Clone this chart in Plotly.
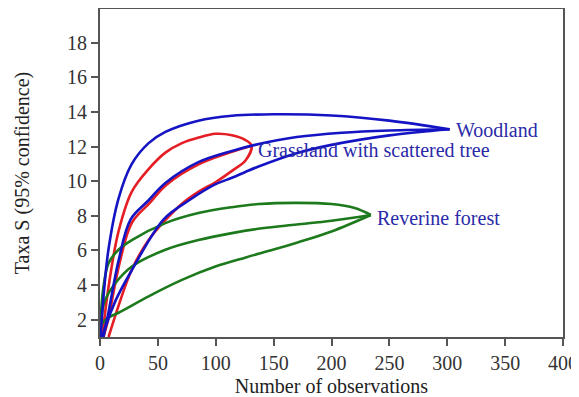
import plotly.graph_objects as go

# Woodland (blue): upper CI, mean, lower CI
wood_up_x = [0.5, 3, 7.4, 16, 27.5, 42, 56.5, 85, 114, 150, 200, 250, 302]
wood_up_y = [1, 3.3, 6.1, 9.0, 11.0, 12.2, 12.85, 13.5, 13.78, 13.87, 13.8, 13.5, 13.0]
wood_mid_x = [2, 6, 16, 26.5, 42, 56.5, 85, 114, 134, 170, 209, 250, 302]
wood_mid_y = [1, 2.0, 5.4, 7.8, 8.9, 9.9, 11.1, 11.75, 12.1, 12.55, 12.8, 12.93, 13.0]
wood_lo_x = [3, 5, 13.4, 27, 55, 77, 99, 114, 126, 137, 169, 200, 250, 302]
wood_lo_y = [1, 1.6, 3.1, 4.8, 7.8, 8.9, 9.8, 10.2, 10.55, 10.85, 11.6, 12.1, 12.65, 13.0]

# Grassland with scattered tree (red): upper CI, mean, lower CI (upper+lower drawn as one loop)
grass_loop_x = [2, 7.4, 16, 27.5, 42, 56.5, 70.8, 85.3, 99.7, 114, 125.7, 131,
                125.7, 114, 99.7, 85.3, 70.8, 56.5, 42, 27.5, 16, 7.4]
grass_loop_y = [1, 3.9, 7.1, 9.4, 10.7, 11.65, 12.2, 12.52, 12.74, 12.66, 12.38, 12.05,
                11.2, 10.6, 9.94, 9.4, 8.7, 7.75, 6.6, 4.9, 2.8, 1.0]
grass_mid_x = [3, 7, 17, 27.5, 43, 57.5, 86, 114, 131]
grass_mid_y = [1, 2.0, 5.3, 7.6, 8.75, 9.8, 11.0, 11.7, 12.05]

# Reverine forest (green): upper CI, mean, lower CI
riv_up_x = [0, 1, 3, 7.4, 16, 27.5, 56.5, 85, 114, 137, 170, 200, 220, 234]
riv_up_y = [1, 2.5, 3.9, 5.27, 6.04, 6.6, 7.58, 8.16, 8.5, 8.68, 8.75, 8.68, 8.45, 8.05]
riv_mid_x = [0, 2, 4.5, 12, 27.5, 56.5, 85, 114, 140, 170, 200, 234]
riv_mid_y = [1, 2.5, 3.15, 4.0, 5.07, 6.04, 6.6, 7.0, 7.28, 7.5, 7.72, 8.05]
riv_lo_x = [0, 2, 8, 16, 42, 70.8, 99.7, 126, 150, 170, 200, 234]
riv_lo_y = [1, 1.8, 2.15, 2.4, 3.35, 4.3, 5.07, 5.6, 6.05, 6.45, 7.1, 8.05]

labels = ["Woodland", "Grassland with scattered tree", "Reverine forest"]
label_x = [306, 135, 238]
label_y = [12.95, 11.8, 7.85]

x_ticks = [0, 50, 100, 150, 200, 250, 300, 350, 400]
y_ticks = [2, 4, 6, 8, 10, 12, 14, 16, 18]

BLUE = "#1414c4"
RED = "#e41e24"
GREEN = "#1c7a1c"
W = 2.6
FONT = "Liberation Serif"

fig = go.Figure()
for xs, ys, c in [(grass_mid_x, grass_mid_y, RED), (grass_loop_x, grass_loop_y, RED),
                  (riv_up_x, riv_up_y, GREEN), (riv_mid_x, riv_mid_y, GREEN), (riv_lo_x, riv_lo_y, GREEN),
                  (wood_up_x, wood_up_y, BLUE), (wood_mid_x, wood_mid_y, BLUE), (wood_lo_x, wood_lo_y, BLUE)]:
    fig.add_trace(go.Scatter(x=xs, y=ys, mode="lines", hoverinfo="skip",
                             line=dict(color=c, width=W, shape="spline", smoothing=1.0)))

for t, lx, ly in zip(labels, label_x, label_y):
    fig.add_annotation(x=lx, y=ly, text=t, showarrow=False, xanchor="left", yanchor="middle",
                       font=dict(family=FONT, size=20, color="#2a2aa8"))

axis_common = dict(showgrid=False, zeroline=False, showline=True, linecolor="#555555", linewidth=2,
                   mirror=True, ticks="outside", ticklen=7, tickwidth=2, tickcolor="#555555",
                   automargin=False,
                   tickfont=dict(family=FONT, size=20, color="#333333"))
fig.update_xaxes(range=[0, 400], tickvals=x_ticks,
                 title=dict(text="Number of observations", standoff=6,
                            font=dict(family=FONT, size=20, color="#222222")),
                 **axis_common)
fig.update_yaxes(range=[1, 19.95], tickvals=y_ticks,
                 title=dict(text="Taxa S (95% confidence)", standoff=32,
                            font=dict(family=FONT, size=20, color="#222222")),
                 **axis_common)
# page has an 8px body margin, so the figure is sized to fill the rest of the window
fig.update_layout(width=571, height=389, showlegend=False, plot_bgcolor="white", paper_bgcolor="white",
                  margin=dict(l=92, r=16, t=1, b=60))
fig.write_html("out.html")
